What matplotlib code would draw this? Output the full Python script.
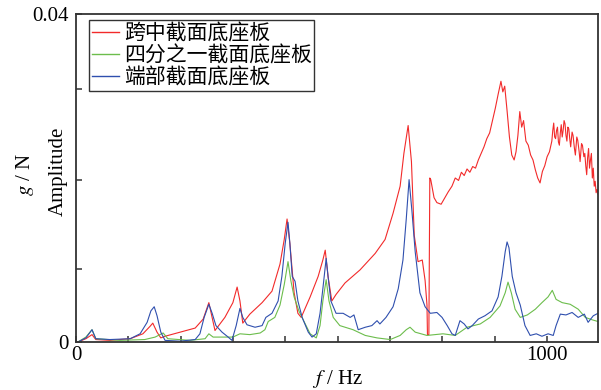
import numpy as np
import matplotlib
matplotlib.use('Agg')
import matplotlib.pyplot as plt
from matplotlib.ticker import FixedLocator

plt.rcParams['font.family'] = ['Liberation Serif', 'DejaVu Serif']
plt.rcParams['mathtext.fontset'] = 'stix'

# frequency response of the base plate at three sections (f in Hz, amplitude in g/N)
mid_f = [4, 21, 34, 42, 72, 115, 142, 157, 163, 172, 180, 189, 221, 253, 270, 282, 289, 295,
         316, 333, 342, 348, 354, 369, 395, 416, 433, 442, 448, 454, 463, 471, 478, 497, 514,
         524, 529, 535, 543, 552, 571, 603, 635, 656, 673, 688, 696, 705, 712, 718, 726, 735,
         741, 745, 746, 749, 751, 753, 760, 766, 775, 783, 790, 798, 805, 812, 818, 824, 830,
         836, 842, 848, 854, 860, 866, 872, 878, 884, 890, 896, 902, 906, 910, 915, 920, 925,
         930, 934, 938, 942, 946, 950, 955, 960, 965, 970, 975, 980, 985, 990, 995, 1000, 1005,
         1010, 1012, 1014, 1016, 1018, 1020, 1022, 1024, 1026, 1028, 1030, 1032, 1034, 1036,
         1038, 1040, 1042, 1044, 1046, 1048, 1050, 1053, 1055, 1058, 1060, 1063, 1065, 1068,
         1070, 1073, 1075, 1078, 1080, 1082, 1084, 1086, 1088, 1090, 1092, 1094, 1096, 1098,
         1100, 1102, 1104, 1106, 1108]
mid_amp = [0.0, 0.0004, 0.0009, 0.0003, 0.0002, 0.0004, 0.0010, 0.0019, 0.0023, 0.0012, 0.0005,
           0.0007, 0.0012, 0.0017, 0.0028, 0.0048, 0.0030, 0.0014, 0.0030, 0.0048, 0.0067,
           0.0050, 0.0023, 0.0034, 0.0048, 0.0062, 0.0095, 0.0125, 0.0150, 0.0120, 0.0060,
           0.0035, 0.0030, 0.0055, 0.0080, 0.0100, 0.0112, 0.0080, 0.0050, 0.0058, 0.0072,
           0.0088, 0.0108, 0.0125, 0.0157, 0.0190, 0.0230, 0.0264, 0.0220, 0.0130, 0.0098,
           0.0100, 0.0075, 0.0045, 0.0009, 0.0009, 0.0200, 0.0198, 0.0176, 0.0170, 0.0168,
           0.0176, 0.0183, 0.0190, 0.0200, 0.0197, 0.0207, 0.0203, 0.0211, 0.0207, 0.0214,
           0.0212, 0.0222, 0.0230, 0.0238, 0.0248, 0.0255, 0.0270, 0.0285, 0.0302, 0.0318,
           0.0305, 0.0312, 0.0282, 0.0250, 0.0228, 0.0222, 0.0232, 0.0252, 0.0281, 0.0262,
           0.0270, 0.0245, 0.0240, 0.0228, 0.0222, 0.0210, 0.0200, 0.0194, 0.0208, 0.0215,
           0.0226, 0.0232, 0.0245, 0.0258, 0.0267, 0.0250, 0.0248, 0.0258, 0.0262, 0.0244,
           0.0240, 0.0255, 0.0265, 0.0250, 0.0258, 0.0270, 0.0266, 0.0252, 0.0245, 0.0262,
           0.0260, 0.0248, 0.0238, 0.0256, 0.0252, 0.0236, 0.0228, 0.0250, 0.0246, 0.0232,
           0.0220, 0.0242, 0.0240, 0.0226, 0.0230, 0.0215, 0.0204, 0.0225, 0.0236, 0.0212,
           0.0222, 0.0230, 0.0200, 0.0212, 0.0190, 0.0196, 0.0182, 0.0186, 0.0180]

quarter_f = [4, 21, 34, 42, 93, 146, 168, 185, 195, 242, 274, 282, 291, 333, 348, 369, 391, 401,
             408, 422, 433, 442, 450, 456, 463, 473, 484, 497, 510, 518, 524, 531, 537, 546, 560,
             588, 614, 639, 667, 688, 701, 709, 720, 745, 779, 805, 830, 858, 879, 900, 911, 917,
             924, 932, 943, 958, 975, 989, 1002, 1011, 1019, 1032, 1049, 1066, 1081, 1096, 1108]
quarter_amp = [0.0, 0.0006, 0.0015, 0.0004, 0.0002, 0.0003, 0.0006, 0.0011, 0.0004, 0.0002,
               0.0004, 0.0010, 0.0006, 0.0006, 0.0010, 0.0009, 0.0011, 0.0015, 0.0025, 0.0030,
               0.0045, 0.0070, 0.0098, 0.0075, 0.0055, 0.0038, 0.0025, 0.0010, 0.0005, 0.0020,
               0.0050, 0.0076, 0.0050, 0.0030, 0.0020, 0.0015, 0.0008, 0.0005, 0.0003, 0.0008,
               0.0015, 0.0018, 0.0012, 0.0008, 0.0010, 0.0008, 0.0018, 0.0022, 0.0030, 0.0044,
               0.0060, 0.0073, 0.0060, 0.0040, 0.0030, 0.0033, 0.0040, 0.0048, 0.0055, 0.0063,
               0.0052, 0.0048, 0.0046, 0.0040, 0.0030, 0.0027, 0.0025]

end_f = [4, 21, 34, 42, 72, 115, 136, 151, 159, 166, 172, 180, 189, 221, 253, 263, 272, 282,
         289, 297, 310, 323, 331, 340, 348, 354, 363, 380, 395, 403, 416, 429, 437, 444, 450,
         454, 459, 465, 471, 480, 493, 501, 510, 518, 524, 531, 535, 541, 552, 567, 582, 590,
         599, 614, 628, 639, 645, 658, 673, 684, 694, 701, 707, 713, 720, 730, 741, 752, 766,
         777, 788, 798, 805, 815, 824, 832, 841, 854, 868, 883, 896, 904, 911, 915, 919, 926,
         934, 943, 953, 964, 977, 989, 1002, 1013, 1019, 1028, 1040, 1053, 1066, 1079, 1087,
         1098, 1108]
end_amp = [0.0, 0.0005, 0.0015, 0.0004, 0.0003, 0.0004, 0.0010, 0.0024, 0.0038, 0.0043,
           0.0032, 0.0012, 0.0002, 0.0001, 0.0003, 0.0010, 0.0030, 0.0046, 0.0035, 0.0020,
           0.0012, 0.0006, 0.0002, 0.0020, 0.0041, 0.0030, 0.0021, 0.0018, 0.0020, 0.0030,
           0.0035, 0.0050, 0.0080, 0.0120, 0.0146, 0.0120, 0.0080, 0.0074, 0.0050, 0.0030,
           0.0012, 0.0006, 0.0010, 0.0035, 0.0065, 0.0102, 0.0080, 0.0050, 0.0035, 0.0035,
           0.0030, 0.0033, 0.0015, 0.0018, 0.0020, 0.0026, 0.0022, 0.0030, 0.0043, 0.0065,
           0.0100, 0.0150, 0.0198, 0.0160, 0.0110, 0.0060, 0.0043, 0.0035, 0.0036, 0.0030,
           0.0020, 0.0010, 0.0008, 0.0026, 0.0022, 0.0016, 0.0020, 0.0028, 0.0032, 0.0038,
           0.0055, 0.0080, 0.0110, 0.0122, 0.0115, 0.0080, 0.0060, 0.0045, 0.0020, 0.0008,
           0.0010, 0.0007, 0.0010, 0.0008, 0.0020, 0.0034, 0.0033, 0.0036, 0.0030, 0.0034,
           0.0024, 0.0032, 0.0035]

labels = ['跨中截面底座板', '四分之一截面底座板', '端部截面底座板']
colors = ['#f22a2a', '#6cbd4c', '#2f4fae']


def main():
    fig = plt.figure(figsize=(6.01, 3.90), dpi=100)
    ax = fig.add_axes([76 / 601, 1 - 342 / 390, 522 / 601, 328 / 390])

    ax.plot(mid_f, mid_amp, color=colors[0], lw=0.8, label=labels[0])
    ax.plot(quarter_f, quarter_amp, color=colors[1], lw=0.8, label=labels[1])
    ax.plot(end_f, end_amp, color=colors[2], lw=0.8, label=labels[2])

    ax.set_xlim(0, 1108)
    ax.set_ylim(0, 0.04)

    ax.xaxis.set_major_locator(FixedLocator([0, 1000]))
    ax.xaxis.set_minor_locator(FixedLocator([k * 1000 / 9 for k in range(1, 9)]))
    ax.yaxis.set_major_locator(FixedLocator([0, 0.04]))
    ax.yaxis.set_minor_locator(FixedLocator([0.0089, 0.0198, 0.0309]))
    ax.set_xticklabels(['0', '1000'])
    ax.set_yticklabels(['0', '0.04'])
    ax.tick_params(which='both', direction='in', length=4.5, width=1.1, color='#333333',
                   labelsize=15, top=False, right=False)
    ax.tick_params(axis='x', pad=3)
    ax.tick_params(axis='y', pad=5)
    for s in ax.spines.values():
        s.set_color('#333333')
        s.set_linewidth(1.3)

    ax.set_xlabel('$f$ / Hz', fontsize=15, labelpad=2)
    fig.text(25 / 601, 1 - 174 / 390, '$g$ / N', rotation=90, fontsize=15,
             ha='center', va='center')
    fig.text(58 / 601, 1 - 171 / 390, 'Amplitude', rotation=90, fontsize=15,
             ha='center', va='center')

    leg = ax.legend(loc='upper left', bbox_to_anchor=(0.025, 0.982), borderaxespad=0,
                    prop={'family': ['Noto Sans CJK SC', 'DejaVu Sans'], 'size': 15},
                    frameon=True, fancybox=False, edgecolor='#333333', framealpha=1,
                    handlelength=1.3, handletextpad=0.25, labelspacing=0.0,
                    borderpad=0.12)
    leg.get_frame().set_linewidth(1.0)
    for line in leg.get_lines():
        line.set_linewidth(1.0)

    fig.savefig('out.png', dpi=100)
    plt.close(fig)


if __name__ == '__main__':
    main()
